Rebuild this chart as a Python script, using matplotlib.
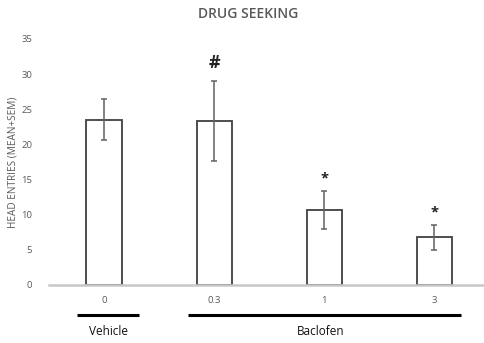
import matplotlib
matplotlib.use("Agg")
import matplotlib.pyplot as plt
import matplotlib.transforms as mtransforms

plt.rcParams['font.family'] = ['Open Sans', 'DejaVu Sans']

doses = ["0", "0.3", "1", "3"]
means = [23.5, 23.3, 10.7, 6.8]
sems = [2.9, 5.7, 2.7, 1.8]
marks = ["", "#", "*", "*"]

groups = ["Vehicle", "Baclofen"]
group_start = [-0.25, 0.76]
group_end = [0.32, 3.24]

fig = plt.figure(figsize=(4.85, 3.43), dpi=100)
ax = fig.add_axes([49 / 485, 58 / 343, 436 / 485, 246 / 343])

x = list(range(len(doses)))
ax.bar(x, means, width=0.32, color="white", edgecolor="#404040", linewidth=1.3, zorder=2)
ax.errorbar(x, means, yerr=sems, fmt="none", ecolor="#606060", elinewidth=1.1,
            capsize=2.5, capthick=1.1, zorder=3)

for xi, m, s, mk in zip(x, means, sems, marks):
    if mk == "#":
        ax.text(xi, m + s + 1.3, mk, ha="center", va="bottom", fontsize=13,
                fontweight="bold", color="#222222")
    elif mk:
        ax.text(xi, m + s + 0.7, mk, ha="center", va="bottom", fontsize=10.5,
                fontweight="bold", color="#222222")

ax.set_xlim(-0.5, 3.46)
ax.set_ylim(0, 35)
ax.set_yticks(range(0, 36, 5))
ax.set_xticks(x)
ax.set_xticklabels(doses)
ax.tick_params(axis="both", length=0, labelsize=6.8, labelcolor="#595959")
ax.tick_params(axis="x", pad=8)
ax.tick_params(axis="y", pad=12)
for side in ["top", "right", "left"]:
    ax.spines[side].set_visible(False)
ax.spines["bottom"].set_color("#c8c8c8")
ax.spines["bottom"].set_linewidth(1.8)

ax.set_ylabel("HEAD ENTRIES (MEAN+SEM)", fontsize=7.2, color="#595959", labelpad=2)
fig.text(0.512, 0.958, "DRUG SEEKING", ha="center", va="center", fontsize=10,
         fontweight="semibold", color="#595959")

trans = mtransforms.blended_transform_factory(ax.transData, ax.transAxes)
for name, a, b in zip(groups, group_start, group_end):
    ax.plot([a, b], [-0.122, -0.122], color="black", linewidth=2.2,
            transform=trans, clip_on=False, solid_capstyle="butt")
for name, xc in zip(groups, [0.04, 1.97]):
    ax.text(xc, -0.19, name, ha="center", va="center", fontsize=8.5,
            color="#111111", transform=trans)

fig.savefig("out.png", dpi=100)
